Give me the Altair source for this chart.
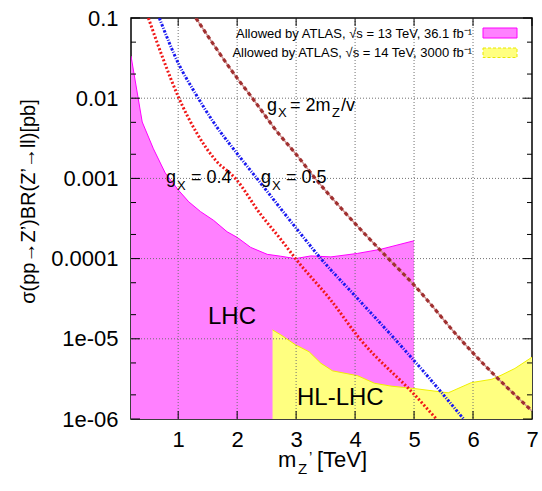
import altair as alt
import pandas as pd

FONT = "Liberation Sans"

# ---------------- data ----------------
x_ticks = [1, 2, 3, 4, 5, 6, 7]
y_ticks = [0.1, 0.01, 0.001, 0.0001, 1e-5, 1e-6]
y_tick_labels = ["0.1", "0.01", "0.001", "0.0001", "1e-05", "1e-06"]
y_minor = [5e-2, 2e-2, 5e-3, 2e-3, 5e-4, 2e-4, 5e-5, 2e-5, 5e-6, 2e-6]
x_grid = [1, 2, 3, 4, 5, 6]
y_grid = [0.01, 0.001, 0.0001, 1e-5]

# ATLAS 13 TeV, 36.1 fb^-1 allowed region (upper edge)
lhc_mass = [0.2, 0.39, 0.58, 0.78, 1.0, 1.18, 1.38, 1.6, 1.83, 2.0, 2.23, 2.51,
            2.74, 2.99, 3.25, 3.59, 4.04, 4.44, 5.0]
lhc_xsec = [3.36e-2, 5.05e-3, 2.34e-3, 1.17e-3, 7.2e-4, 5.1e-4, 3.85e-4, 3.0e-4,
            2.16e-4, 1.84e-4, 1.38e-4, 1.13e-4, 1.07e-4, 1.0e-4, 1.08e-4, 1.05e-4,
            1.16e-4, 1.31e-4, 1.67e-4]

# ATLAS 14 TeV, 3000 fb^-1 projected region (upper edge)
hl_mass = [2.6, 2.74, 2.99, 3.22, 3.42, 3.62, 4.04, 4.33, 4.61, 5.0, 5.58, 5.97,
           6.32, 6.49, 6.71, 7.0]
hl_xsec = [1.29e-5, 1.12e-5, 8.4e-6, 6.9e-6, 4.95e-6, 3.98e-6, 3.47e-6, 2.79e-6,
           2.57e-6, 2.40e-6, 2.12e-6, 2.84e-6, 3.13e-6, 3.55e-6, 4.27e-6, 5.9e-6]

# g_X = 0.4
g04_mass = [0.495, 0.75, 1.0, 1.32, 1.63, 1.97, 2.4, 2.74, 2.99, 3.59, 4.08, 5.01, 5.38]
g04_xsec = [0.1, 3.02e-2, 1.05e-2, 3.63e-3, 1.7e-3, 1.0e-3, 3.55e-4, 1.74e-4,
            1.0e-4, 3.02e-5, 1.0e-5, 2.0e-6, 1.0e-6]

# g_X = 0.5
g05_mass = [0.68, 1.0, 1.3, 1.6, 2.0, 2.4, 3.0, 3.42, 4.02, 4.67, 5.01, 5.84]
g05_xsec = [0.1, 2.75e-2, 1.12e-2, 5.01e-3, 2.04e-3, 8.7e-4, 2.4e-4, 1.0e-4,
            3.31e-5, 1.0e-5, 5.25e-6, 1.0e-6]

# g_X = 2 m_Z'/v
gv_mass = [1.3, 2.0, 2.26, 2.68, 3.0, 3.3, 3.76, 4.5, 5.0, 5.78, 6.03, 7.0]
gv_xsec = [0.1, 1.78e-2, 1.0e-2, 3.8e-3, 2.0e-3, 1.05e-3, 4.27e-4, 1.12e-4,
           4.68e-5, 1.0e-5, 6.3e-6, 1.26e-6]

BASE = 1e-6

# ---------------- scales / axes ----------------
xs = alt.Scale(domain=[0.2, 7], nice=False, zero=False)
ys = alt.Scale(type="log", domain=[1e-6, 0.1], nice=False)

label_expr = "[" + ",".join("'%s'" % s for s in y_tick_labels) + "][round(-log(datum.value)/LN10) - 1]"

xaxis = alt.Axis(values=x_ticks, labelFont=FONT, labelFontSize=22, labelColor="black",
                 domain=False, ticks=False, grid=False, title=None, labelPadding=10,
                 labelFlush=False)
yaxis = alt.Axis(values=y_ticks, labelExpr=label_expr, labelFont=FONT, labelFontSize=22,
                 labelColor="black", domain=False, ticks=False, grid=False,
                 labelPadding=13, labelFlush=False,
                 title="σ(pp→Z’)BR(Z’→ll)[pb]", titleFont=FONT, titleFontSize=20,
                 titleFontWeight="normal", titleColor="black", titleAngle=270,
                 titleX=-103, titleY=183, titleAlign="center", titleBaseline="middle")

X = lambda: alt.X("mass:Q", scale=xs, axis=xaxis)
Y = lambda: alt.Y("xsec:Q", scale=ys, axis=yaxis)

df_lhc = pd.DataFrame({"mass": lhc_mass, "xsec": lhc_xsec})
df_hl = pd.DataFrame({"mass": hl_mass, "xsec": hl_xsec})
df_g04 = pd.DataFrame({"mass": g04_mass, "xsec": g04_xsec})
df_g05 = pd.DataFrame({"mass": g05_mass, "xsec": g05_xsec})
df_gv = pd.DataFrame({"mass": gv_mass, "xsec": gv_xsec})

layers = []

# filled regions
layers.append(alt.Chart(df_lhc).mark_area(color="#ff80ff", opacity=1, clip=True)
              .encode(x=X(), y=Y(), y2=alt.datum(BASE)))
layers.append(alt.Chart(df_lhc).mark_line(color="#ff00ff", strokeWidth=1, clip=True)
              .encode(x=X(), y=Y()))
layers.append(alt.Chart(df_hl).mark_area(color="#ffff80", opacity=1, clip=True)
              .encode(x=X(), y=Y(), y2=alt.datum(BASE)))
layers.append(alt.Chart(df_hl).mark_line(color="#f0f000", strokeWidth=1, clip=True)
              .encode(x=X(), y=Y()))

# grid
layers.append(alt.Chart(pd.DataFrame({"mass": x_grid})).mark_rule(
    color="#707070", strokeDash=[1, 2], strokeWidth=1).encode(x=X()))
layers.append(alt.Chart(pd.DataFrame({"xsec": y_grid})).mark_rule(
    color="#707070", strokeDash=[1, 2], strokeWidth=1).encode(y=Y()))

# model lines
layers.append(alt.Chart(df_g04).mark_line(color="#f01818", strokeWidth=3,
              strokeDash=[2, 2], interpolate="monotone", clip=True).encode(x=X(), y=Y()))
layers.append(alt.Chart(df_g05).mark_line(color="#1818f0", strokeWidth=3,
              strokeDash=[2.5, 1.5, 1, 1.5], interpolate="monotone", clip=True).encode(x=X(), y=Y()))
layers.append(alt.Chart(df_gv).mark_line(color="#d09494", strokeWidth=1.5,
              interpolate="monotone", clip=True).encode(x=X(), y=Y()))
layers.append(alt.Chart(df_gv).mark_line(color="#a03030", strokeWidth=3.2,
              strokeDash=[4, 3], interpolate="monotone", clip=True).encode(x=X(), y=Y()))

# inward ticks
W = 401
H = 401
dxt = pd.DataFrame({"mass": x_ticks})
layers.append(alt.Chart(dxt).mark_rule(color="black", strokeWidth=1)
              .encode(x=X(), y=alt.value(H), y2=alt.value(H - 8)))
layers.append(alt.Chart(dxt).mark_rule(color="black", strokeWidth=1)
              .encode(x=X(), y=alt.value(0), y2=alt.value(8)))
dyt = pd.DataFrame({"xsec": y_ticks})
dym = pd.DataFrame({"xsec": y_minor})
layers.append(alt.Chart(dyt).mark_rule(color="black", strokeWidth=1)
              .encode(y=Y(), x=alt.value(0), x2=alt.value(9)))
layers.append(alt.Chart(dyt).mark_rule(color="black", strokeWidth=1)
              .encode(y=Y(), x=alt.value(W), x2=alt.value(W - 9)))
layers.append(alt.Chart(dym).mark_rule(color="black", strokeWidth=1)
              .encode(y=Y(), x=alt.value(0), x2=alt.value(5)))
layers.append(alt.Chart(dym).mark_rule(color="black", strokeWidth=1)
              .encode(y=Y(), x=alt.value(W), x2=alt.value(W - 5)))

one = pd.DataFrame({"k": [0]})


def txt(s, x, y, size, align="left"):
    return alt.Chart(one).mark_text(text=s, font=FONT, fontSize=size, color="black",
                                    align=align, baseline="alphabetic").encode(
        x=alt.value(x), y=alt.value(y))


# annotations (plot-area pixel positions)
layers += [
    txt("g", 35, 165, 18), txt("X", 46, 172, 13), txt("= 0.4", 60, 165, 18),
    txt("g", 130, 165, 18), txt("X", 141, 172, 13), txt("= 0.5", 155, 165, 18),
    txt("g", 136, 93, 18), txt("X", 147, 99, 13), txt("= 2m", 159, 93, 18),
    txt("Z", 201, 99, 13), txt("/v", 210, 93, 18),
    txt("LHC", 77, 306, 24),
    txt("HL-LHC", 166, 387, 24),
]

# legend
layers += [
    txt("Allowed by ATLAS, √s = 13 TeV, 36.1 fb⁻¹", 341, 20, 13, align="right"),
    txt("Allowed by ATLAS, √s = 14 TeV, 3000 fb⁻¹", 341, 39, 13, align="right"),
    alt.Chart(one).mark_rect(fill="#ff80ff", stroke="#ff00ff", strokeWidth=1).encode(
        x=alt.value(352), x2=alt.value(386), y=alt.value(10), y2=alt.value(20)),
    alt.Chart(one).mark_rect(fill="#ffff80", stroke="#e8e800", strokeWidth=1,
                             strokeDash=[3, 2]).encode(
        x=alt.value(352), x2=alt.value(386), y=alt.value(30), y2=alt.value(39.5)),
]

# x-axis title with subscript
layers += [
    txt("m", 147, 449, 22), txt("Z", 167, 456, 15), txt("’", 178, 444, 15),
    txt("[TeV]", 186, 449, 22),
]

chart = alt.layer(*layers).properties(
    width=W, height=H,
    autosize=alt.AutoSizeParams(type="none"),
    padding={"left": 131, "top": 18, "right": 10, "bottom": 72},
).configure_view(stroke="black", strokeWidth=1.5)

chart.save("out.html", embed_options={"renderer": "svg", "actions": False})
